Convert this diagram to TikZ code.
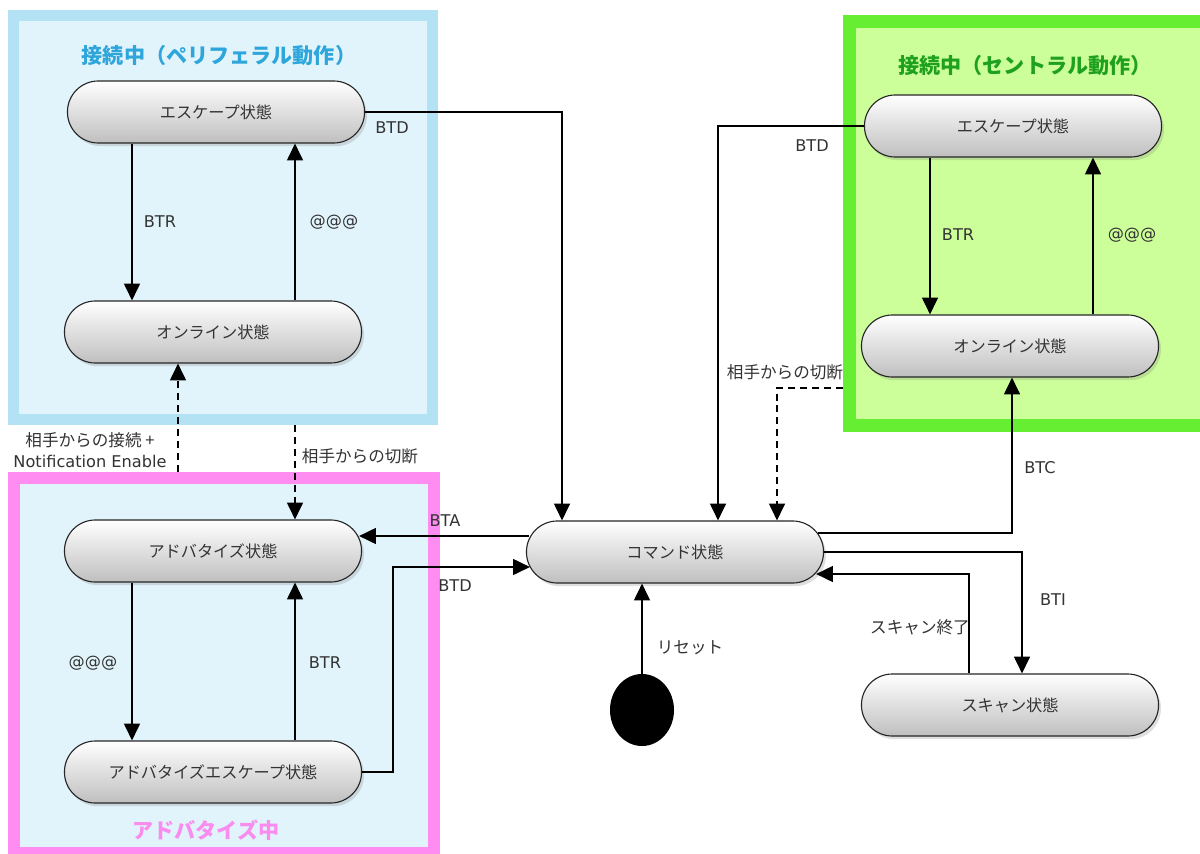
\documentclass[tikz,border=0pt]{standalone}
\usepackage{fontspec}
\setmainfont{DejaVu Sans}
\newfontfamily\jp{Noto Sans CJK JP}
\usetikzlibrary{arrows.meta,calc,shadows,shapes.geometric}
\definecolor{pblueline}{HTML}{B3E2F5}
\definecolor{pbluefill}{HTML}{E1F4FB}
\definecolor{pbluetitle}{HTML}{2EA6DB}
\definecolor{greenline}{HTML}{66EE33}
\definecolor{greenfill}{HTML}{CCFF99}
\definecolor{greentitle}{HTML}{1FA01F}
\definecolor{pinkline}{HTML}{FF8CF0}
\definecolor{pinktitle}{HTML}{F98CEE}
\definecolor{txt}{HTML}{333333}
\begin{document}
\begin{tikzpicture}[x=0.025cm,y=-0.025cm,
  stbox/.style={draw=black!85, line width=0.8pt, rounded corners=0.77cm,
    minimum width=7.425cm, minimum height=1.55cm, inner sep=0pt,
    top color=white, bottom color=black!25, text=txt,
    drop shadow={shadow xshift=0.6mm, shadow yshift=-0.8mm, opacity=0.25},
    font=\jp\fontsize{11.5}{13}\selectfont},
  grpbox/.style={inner sep=0pt, outer sep=0pt},
  lbl/.style={inner sep=0pt, text=txt, font=\fontsize{11.5}{13}\selectfont},
  jlbl/.style={inner sep=0pt, text=txt, font=\jp\fontsize{11.8}{14}\selectfont},
  ttl/.style={inner sep=0pt, font=\jp\bfseries\fontsize{15}{17}\selectfont},
  arr/.style={-{Triangle[length=4.2mm,width=4.0mm]}, line width=0.9pt},
  dsh/.style={dash pattern=on 5pt off 3.5pt}]
\useasboundingbox (0,0) rectangle (1200,853);
\fill[white] (0,0) rectangle (1200,853);

% group boxes
\node[grpbox, draw=pblueline, line width=11*0.025cm, fill=pbluefill,
  minimum width=10.475cm, minimum height=10.1cm] (pbox) at (223,217.5) {};
\node[grpbox, draw=greenline, line width=13*0.025cm, fill=greenfill,
  minimum width=9.0cm, minimum height=10.1cm] (gbox) at (1029.75,223.5) {};
\node[grpbox, draw=pinkline, line width=12*0.025cm, fill=pbluefill,
  minimum width=10.5cm, minimum height=9.375cm] (abox) at (224,665.5) {};

% titles
\node[ttl, text=pbluetitle] (ptitle) at (219,55) {接続中（ペリフェラル動作）};
\node[ttl, text=greentitle] (gtitle) at (1025,65) {接続中（セントラル動作）};
\node[ttl, text=pinktitle] (atitle) at (206,830) {アドバタイズ中};

% states
\node[stbox] (pesc) at (216,112) {エスケープ状態};
\node[stbox] (ponl) at (213,332) {オンライン状態};
\node[stbox] (adv)  at (213,551) {アドバタイズ状態};
\node[stbox] (aesc) at (213,772) {アドバタイズエスケープ状態};
\node[stbox] (cmd)  at (675,552) {コマンド状態};
\node[stbox] (cesc) at (1013,126) {エスケープ状態};
\node[stbox] (conl) at (1010,346) {オンライン状態};
\node[stbox] (scan) at (1010,705) {スキャン状態};
\node[ellipse, fill=black, minimum width=1.6cm, minimum height=1.8cm, inner sep=0pt] (reset) at (642,710) {};

% peripheral internal
\draw[arr] ($(pesc.south)+(-84,0)$) coordinate (t1) -- (t1 |- ponl.north);
\draw[arr] ($(ponl.north)+(82,0)$) coordinate (t2) -- (t2 |- pesc.south);
\node[lbl] (l1) at (160,222) {BTR};
\node[lbl] (l2) at (334,222) {@@@};

% advertise internal
\draw[arr] ($(adv.south)+(-81,0)$) coordinate (t3) -- (t3 |- aesc.north);
\draw[arr] ($(aesc.north)+(82,0)$) coordinate (t4) -- (t4 |- adv.south);
\node[lbl] (l3) at (93,663) {@@@};
\node[lbl] (l4) at (325,663) {BTR};

% central internal
\draw[arr] ($(cesc.south)+(-83,0)$) coordinate (t5) -- (t5 |- conl.north);
\draw[arr] ($(conl.north)+(83,0)$) coordinate (t6) -- (t6 |- cesc.south);
\node[lbl] (l5) at (958,235) {BTR};
\node[lbl] (l6) at (1132,235) {@@@};

% dashed between groups
\coordinate (d1) at ($(ponl.south)+(-35,0)$);
\draw[arr,dsh] ($(d1 |- abox.north)+(0,-6)$) -- (d1);
\coordinate (d2) at ($(adv.north)+(82,0)$);
\draw[arr,dsh] ($(d2 |- pbox.south)+(0,5.5)$) -- (d2);
\node[jlbl, align=center] (l7) at (90,450) {相手からの接続 +\\[1pt]{\rmfamily\fontsize{11.5}{13}\selectfont Notification Enable}};
\node[jlbl] (l8) at (360,456) {相手からの切断};

% to command
\draw[arr] (pesc.east) -| ($(cmd.north)+(-113,0)$);
\node[lbl] (l9) at (392,128) {BTD};
\draw[arr] (cesc.west) -| ($(cmd.north)+(43,0)$);
\node[lbl] (l10) at (812,146) {BTD};
\draw[arr,dsh] ($(gbox.west)+(-6.5,164.5)$) -| ($(cmd.north)+(102,0)$);
\node[jlbl] (l11) at (785,372) {相手からの切断};

\draw[arr] ($(cmd.west)+(3,-16)$) -- ($(adv.east)+(-3,-15)$);
\node[lbl] (l12) at (445,521) {BTA};
\draw[arr] (aesc.east) -- ++(31,0) |- ($(cmd.west)+(4,15)$);
\node[lbl] (l13) at (455,586) {BTD};

\draw[arr] (reset.north) -- (reset.north |- cmd.south);
\node[jlbl] (l14) at (690,648) {リセット};

\draw[arr] ($(cmd.east)+(-6,-19)$) -| ($(conl.south)+(2,0)$);
\node[lbl] (l15) at (1040,468) {BTC};
\draw[arr] (cmd.east) -| ($(scan.north)+(12,0)$);
\node[lbl] (l16) at (1053,600) {BTI};
\draw[arr] ($(scan.north)+(-41,0)$) |- ($(cmd.east)+(-8,22)$);
\node[jlbl] (l17) at (920,627) {スキャン終了};
\end{tikzpicture}
\end{document}
